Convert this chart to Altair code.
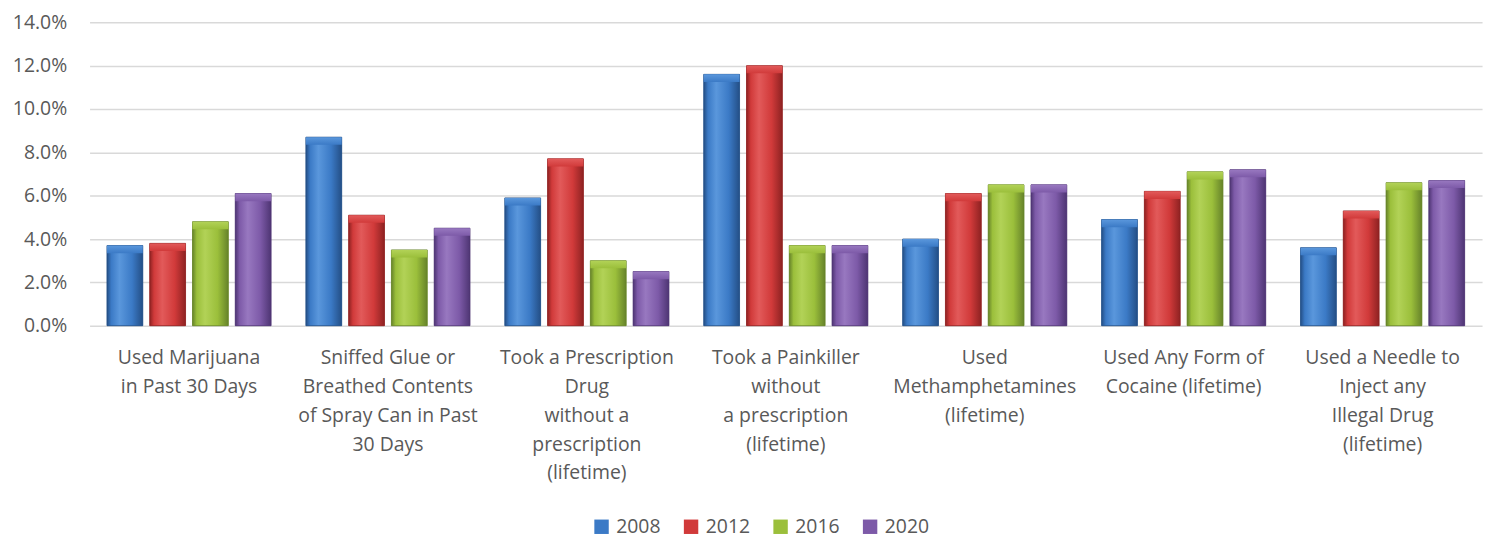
import altair as alt
import pandas as pd

categories = [
    "Used Marijuana|in Past 30 Days",
    "Sniffed Glue or|Breathed Contents|of Spray Can in Past|30 Days",
    "Took a Prescription|Drug|without a|prescription|(lifetime)",
    "Took a Painkiller|without|a prescription|(lifetime)",
    "Used|Methamphetamines|(lifetime)",
    "Used Any Form of|Cocaine (lifetime)",
    "Used a Needle to|Inject any|Illegal Drug|(lifetime)",
]
years = ["2008", "2012", "2016", "2020"]
v2008 = [3.7, 8.7, 5.9, 11.6, 4.0, 4.9, 3.6]
v2012 = [3.8, 5.1, 7.7, 12.0, 6.1, 6.2, 5.3]
v2016 = [4.8, 3.5, 3.0, 3.7, 6.5, 7.1, 6.6]
v2020 = [6.1, 4.5, 2.5, 3.7, 6.5, 7.2, 6.7]

base_colors = ["#3B7AC6", "#D13A3A", "#9BBF3B", "#7D5AA8"]
dark_colors = ["#244F86", "#8E2222", "#66832A", "#4E3573"]
light_colors = ["#5A97DC", "#E25A5A", "#B2D257", "#9878C0"]

rows = []
for y, vals in zip(years, [v2008, v2012, v2016, v2020]):
    for c, v in zip(categories, vals):
        rows.append({"cat": c, "year": y, "value": v / 100})
df = pd.DataFrame(rows)

font = "Open Sans"

x_enc = alt.X("cat:N", sort=categories, title=None,
              scale=alt.Scale(paddingInner=0, paddingOuter=0),
              axis=alt.Axis(labelExpr="split(datum.label, '|')", labelAngle=0,
                            labelFontSize=19.5, labelColor="#595959", labelFont=font,
                            labelLineHeight=29, labelPadding=23, labelLimit=220,
                            domain=False, ticks=False, grid=False, labelBaseline="top"))
xo_enc = alt.XOffset("year:N", sort=years,
                     scale=alt.Scale(domain=years, paddingInner=0.163, paddingOuter=0.407))
y_enc = alt.Y("value:Q", title=None,
              scale=alt.Scale(domain=[0, 0.14], nice=False),
              axis=alt.Axis(format=".1%", values=[i * 0.02 for i in range(8)],
                            labelFontSize=19.5, labelColor="#595959", labelFont=font,
                            labelPadding=23, domain=False, ticks=False,
                            gridColor="#D9D9D9", gridWidth=1.5))

base = alt.Chart(df).mark_bar(stroke=None).encode(
    x=x_enc, xOffset=xo_enc, y=y_enc,
    color=alt.Color("year:N", sort=years,
                    scale=alt.Scale(domain=years, range=base_colors),
                    legend=alt.Legend(title=None, orient="none", direction="horizontal",
                                      legendX=505, legendY=497, symbolType="square",
                                      symbolSize=210, symbolStrokeWidth=0,
                                      labelFontSize=19.5, labelColor="#595959",
                                      labelFont=font, columnPadding=20, labelOffset=5)),
)

layers = [base]
for y, b, d, l in zip(years, base_colors, dark_colors, light_colors):
    grad = alt.Gradient(
        gradient="linear", x1=0, x2=1, y1=0, y2=0,
        stops=[alt.GradientStop(color=d, offset=0),
               alt.GradientStop(color=b, offset=0.12),
               alt.GradientStop(color=l, offset=0.35),
               alt.GradientStop(color=b, offset=0.7),
               alt.GradientStop(color=d, offset=1)])
    layer = alt.Chart(df).transform_filter(alt.datum.year == y).mark_bar(
        color=grad, stroke=d, strokeWidth=0.8).encode(
        x=alt.X("cat:N", sort=categories),
        xOffset=alt.XOffset("year:N", sort=years),
        y=alt.Y("value:Q"))
    cap = alt.Chart(df).transform_filter(alt.datum.year == y).transform_calculate(
        top2="datum.value - 0.0035").mark_bar(
        color=alt.Gradient(gradient="linear", x1=0, x2=0, y1=0, y2=1,
                           stops=[alt.GradientStop(color=l, offset=0),
                                  alt.GradientStop(color=b, offset=1)])).encode(
        x=alt.X("cat:N", sort=categories),
        xOffset=alt.XOffset("year:N", sort=years),
        y=alt.Y("value:Q"), y2="top2:Q")
    layers += [layer, cap]

chart = alt.layer(*layers).properties(
    width=1400, height=305, background="white",
    autosize=alt.AutoSizeParams(type="none"),
    padding={"left": 82, "top": 13, "right": 8, "bottom": 214},
).configure_view(stroke=None)

chart.save("out.html", embed_options={"renderer": "svg", "actions": False})
